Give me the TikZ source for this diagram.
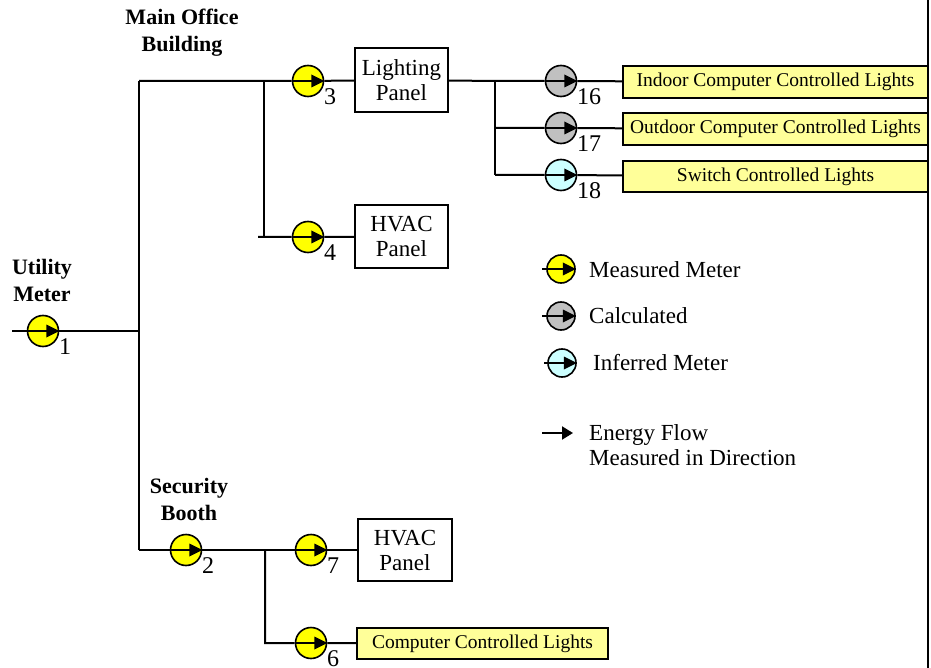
\documentclass[tikz,border=0pt]{standalone}
\usepackage{fontspec}
\setmainfont{Liberation Serif}
\usetikzlibrary{arrows.meta}
\definecolor{myyellow}{HTML}{FFFF00}
\definecolor{mygray}{HTML}{C0C0C0}
\definecolor{mycyan}{HTML}{CCFFFF}
\definecolor{boxyellow}{HTML}{FFFF99}
\begin{document}
\begin{tikzpicture}[x=1pt,y=-1pt,
  wire/.style={line width=2pt},
  meter/.style={circle, draw, line width=1.6pt, minimum size=31pt, inner sep=0pt, fill=#1},
  lmeter/.style={meter=#1, minimum size=28pt},
  num/.style={font=\fontsize{24}{26}\selectfont, inner sep=0pt, anchor=west},
  panel/.style={draw, line width=1.6pt, fill=white, minimum width=93pt, minimum height=63pt, align=center, font=\fontsize{23}{25}\selectfont, inner sep=0pt},
  lights/.style={draw, line width=1.6pt, fill=boxyellow, inner sep=0pt, minimum height=32pt, font=\fontsize{19.5}{22}\selectfont},
  heading/.style={font=\bfseries\fontsize{22}{27}\selectfont, align=center, inner sep=0pt, anchor=north},
  legtext/.style={font=\fontsize{23}{25}\selectfont, inner sep=0pt, anchor=base west},
]
\useasboundingbox (0,0) rectangle (931,668);
\draw[line width=2pt] (928,0) -- (928,668);

% headings
\node[heading] (hmain) at (182,9) {Main Office\\Building};
\node[heading] (hutil) at (42,259) {Utility\\Meter};
\node[heading] (hsec) at (189,478) {Security\\Booth};

% junctions
\coordinate (in) at (12,331);
\coordinate (j1) at (139,331);
\coordinate (jt) at (139,81);
\coordinate (jb) at (139,550);
\coordinate (j3) at (264,81);
\coordinate (j4) at (264,237);
\coordinate (j4s) at (258,237);
\coordinate (jl) at (495,81);
\coordinate (jl2) at (495,128);
\coordinate (jl3) at (495,175);
\coordinate (js) at (265,550);
\coordinate (js2) at (265,643);

% meters
\node[meter=myyellow] (m1) at (43,331) {};
\node[meter=myyellow] (m3) at (308,81) {};
\node[meter=myyellow] (m4) at (308,237) {};
\node[meter=mygray] (m16) at (561,81) {};
\node[meter=mygray] (m17) at (561,128) {};
\node[meter=mycyan] (m18) at (561,175) {};
\node[meter=myyellow] (m2) at (186,550) {};
\node[meter=myyellow] (m7) at (311,550) {};
\node[meter=myyellow] (m6) at (311,643) {};

% panels and loads
\node[panel, minimum height=64pt] (lp) at (401.5,80) {Lighting\\Panel};
\node[panel] (hv1) at (401.5,236.5) {HVAC\\Panel};
\node[panel, minimum width=94pt, minimum height=62pt] (hv2) at (405,550) {HVAC\\Panel};
\node[lights, minimum width=305pt] (l16) at (775.5,82) {Indoor Computer Controlled Lights};
\node[lights, minimum width=305pt] (l17) at (775.5,129) {Outdoor Computer Controlled Lights};
\node[lights, minimum width=305pt, minimum height=31pt] (l18) at (775.5,176.5) {Switch Controlled Lights};
\node[lights, minimum width=251pt, minimum height=31pt] (l6) at (482.5,643.5) {Computer Controlled Lights};

% wires
\draw[wire] (in) -- (m1) -- (j1);
\draw[wire] (jt) -- (jb);
\draw[wire] (jt) -- (m3) -- (lp);
\draw[wire] (j3) -- (j4);
\draw[wire] (j4s) -- (m4) -- (hv1);
\draw[wire] (lp) -- (jl) -- (m16) -- (l16);
\draw[wire] (jl) -- (jl3);
\draw[wire] (jl2) -- (m17) -- (l17);
\draw[wire] (jl3) -- (m18) -- (l18);
\draw[wire] (jb) -- (m2) -- (js) -- (m7) -- (hv2);
\draw[wire] (js) -- (js2) -- (m6) -- (l6);

% meter numbers
\node[num] (n1) at ([xshift=16pt,yshift=-16pt]m1.center) {1};
\node[num] (n3) at ([xshift=16pt,yshift=-16pt]m3.center) {3};
\node[num] (n4) at ([xshift=16pt,yshift=-16pt]m4.center) {4};
\node[num] (n16) at ([xshift=16pt,yshift=-16pt]m16.center) {16};
\node[num] (n17) at ([xshift=16pt,yshift=-16pt]m17.center) {17};
\node[num] (n18) at ([xshift=16pt,yshift=-16pt]m18.center) {18};
\node[num] (n2) at ([xshift=16pt,yshift=-16pt]m2.center) {2};
\node[num] (n7) at ([xshift=16pt,yshift=-16pt]m7.center) {7};
\node[num] (n6) at ([xshift=16pt,yshift=-16pt]m6.center) {6};

% legend
\coordinate (s1) at (542,269);
\coordinate (s2) at (542,316);
\coordinate (s3) at (544,363);
\node[lmeter=myyellow] (lg1) at (561,269) {};
\node[lmeter=mygray] (lg2) at (561,316) {};
\node[lmeter=mycyan] (lg3) at (562,363) {};
\draw[wire] (s1) -- (lg1);
\draw[wire] (s2) -- (lg2);
\draw[wire] (s3) -- (lg3);
\node[legtext] (t1) at (589,277) {Measured Meter};
\node[legtext] (t2) at (589,323) {Calculated};
\node[legtext] (t3) at (593,370) {Inferred Meter};
\coordinate (e1) at (542,433);
\coordinate (e2) at (573,433);
\draw[wire, -{Triangle[length=11pt,width=13pt]}] (e1) -- (e2);
\node[legtext, align=left, anchor=north west] (t4) at (589,424) {Energy Flow\\Measured in Direction};

% flow marks inside meters
\foreach \m in {m1,m3,m4,m16,m17,m18,m2,m7,m6,lg1,lg2,lg3}{
  \draw[line width=2pt] (\m.west) -- (\m.east);
  \fill (\m.east) -- ([xshift=-13pt,yshift=6.5pt]\m.east) -- ([xshift=-13pt,yshift=-6.5pt]\m.east) -- cycle;
}
\end{tikzpicture}
\end{document}
